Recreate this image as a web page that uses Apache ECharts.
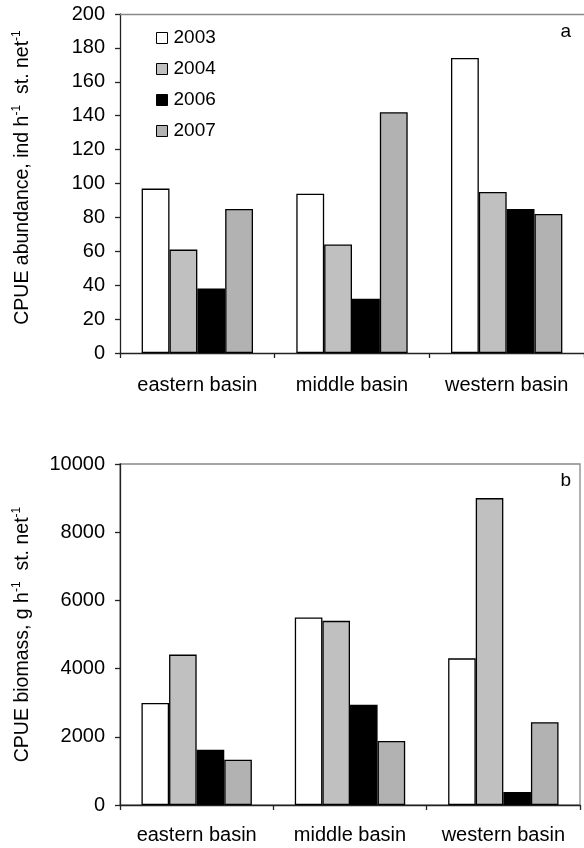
<!DOCTYPE html>
<html>
<head>
<meta charset="utf-8">
<script src="https://cdn.jsdelivr.net/npm/echarts@6/dist/echarts.min.js"></script>
<style>
html,body{margin:0;padding:0;background:#fff;}
#chart{width:584px;height:848px;}
</style>
</head>
<body>
<div id="chart"></div>
<script>
const categories = ['eastern basin', 'middle basin', 'western basin'];
const years = ['2003', '2004', '2006', '2007'];
const abundance2003 = [97, 94, 174];
const abundance2004 = [61, 64, 95];
const abundance2006 = [38, 32, 85];
const abundance2007 = [85, 142, 82];
const biomass2003 = [2990, 5500, 4300];
const biomass2004 = [4410, 5400, 9000];
const biomass2006 = [1620, 2940, 380];
const biomass2007 = [1330, 1880, 2430];
const abundanceTicks = [0, 200, 20];
const biomassTicks = [0, 10000, 2000];

const colors = ['#ffffff', '#c0c0c0', '#000000', '#b2b2b2'];
const FONT = 'Liberation Sans, Arial, sans-serif';

const chart = echarts.init(document.getElementById('chart'), null, {renderer: 'canvas'});

function yName(main1, main2) {
  return '{n|' + main1 + '}{s|-1}{n|  ' + main2 + '}{s|-1}';
}
const nameRich = {
  n: {fontSize: 19.5, fontFamily: FONT, color: '#000', lineHeight: 23},
  s: {fontSize: 12, fontFamily: FONT, color: '#000', lineHeight: 13, verticalAlign: 'top'}
};

function mkSeries(name, data, idx, axis) {
  return {
    name: name, type: 'bar', data: data,
    xAxisIndex: axis, yAxisIndex: axis,
    barGap: '0%', barCategoryGap: '28%',
    itemStyle: {color: colors[idx], borderColor: '#000', borderWidth: 1.3},
    emphasis: {disabled: true},
    animation: false
  };
}

const axisLineDark = {show: true, lineStyle: {color: '#222', width: 1.3}};
const plainFmt = function (v) { return String(v); };

const option = {
  animation: false,
  backgroundColor: '#fff',
  grid: [
    {left: 120, top: 14, width: 464, height: 339, show: false},
    {left: 120, top: 464, width: 460, height: 341, show: true, borderColor: '#888', borderWidth: 1.3}
  ],
  title: [
    {text: 'a', right: 13, top: 22, padding: 0, textStyle: {fontSize: 19, fontWeight: 'normal', fontFamily: FONT, color: '#000'}},
    {text: 'b', right: 13, top: 471, padding: 0, textStyle: {fontSize: 19, fontWeight: 'normal', fontFamily: FONT, color: '#000'}}
  ],
  legend: {
    orient: 'vertical', left: 156, top: 28, padding: 0, itemGap: 11,
    itemWidth: 11, itemHeight: 11, icon: 'rect',
    data: years,
    textStyle: {fontSize: 19, fontFamily: FONT, color: '#000', padding: [0, 0, 0, 1], lineHeight: 20},
    itemStyle: {borderColor: '#000', borderWidth: 1}
  },
  xAxis: [
    {type: 'category', gridIndex: 0, data: categories, position: 'bottom',
     axisLine: axisLineDark, axisTick: {show: true, length: 5, lineStyle: {color: '#222', width: 1.3}},
     axisLabel: {interval: 0, hideOverlap: false, fontSize: 20, fontFamily: FONT, color: '#000', margin: 22}},
    {type: 'category', gridIndex: 1, data: categories, position: 'bottom',
     axisLine: axisLineDark, axisTick: {show: true, length: 5, lineStyle: {color: '#222', width: 1.3}},
     axisLabel: {interval: 0, hideOverlap: false, fontSize: 20, fontFamily: FONT, color: '#000', margin: 20}},
    {type: 'category', gridIndex: 0, data: categories, position: 'top',
     axisLine: {show: true, lineStyle: {color: '#888', width: 1.3}}, axisTick: {show: false}, axisLabel: {show: false}}
  ],
  yAxis: [
    {type: 'value', gridIndex: 0, min: abundanceTicks[0], max: abundanceTicks[1], interval: abundanceTicks[2],
     axisLine: axisLineDark, axisTick: {show: true, length: 5, inside: false, lineStyle: {color: '#222', width: 1.3}},
     splitLine: {show: false},
     axisLabel: {fontSize: 20, fontFamily: FONT, color: '#000', margin: 15, formatter: plainFmt},
     name: yName('CPUE abundance, ind h', 'st. net'), nameLocation: 'middle', nameRotate: 90, nameGap: 86,
     nameTextStyle: {rich: nameRich, padding: [0, 0, 0, 12]}},
    {type: 'value', gridIndex: 1, min: biomassTicks[0], max: biomassTicks[1], interval: biomassTicks[2],
     axisLine: axisLineDark, axisTick: {show: true, length: 5, inside: false, lineStyle: {color: '#222', width: 1.3}},
     splitLine: {show: false},
     axisLabel: {fontSize: 20, fontFamily: FONT, color: '#000', margin: 15, formatter: plainFmt},
     name: yName('CPUE biomass, g h', 'st. net'), nameLocation: 'middle', nameRotate: 90, nameGap: 86,
     nameTextStyle: {rich: nameRich}}
  ],
  series: [
    mkSeries(years[0], abundance2003, 0, 0),
    mkSeries(years[1], abundance2004, 1, 0),
    mkSeries(years[2], abundance2006, 2, 0),
    mkSeries(years[3], abundance2007, 3, 0),
    mkSeries(years[0], biomass2003, 0, 1),
    mkSeries(years[1], biomass2004, 1, 1),
    mkSeries(years[2], biomass2006, 2, 1),
    mkSeries(years[3], biomass2007, 3, 1)
  ]
};
chart.setOption(option);
</script>
</body>
</html>
